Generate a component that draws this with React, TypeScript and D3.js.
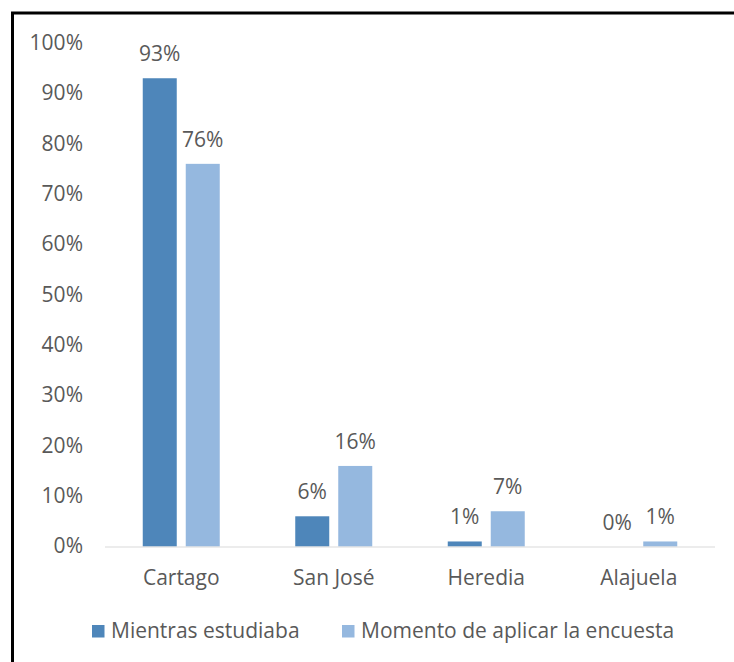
import React from "react";
import * as d3 from "d3";

const categories = ["Cartago", "San José", "Heredia", "Alajuela"];
const seriesNames = ["Mientras estudiaba", "Momento de aplicar la encuesta"];
const mientras = [93, 6, 1, 0];
const momento = [76, 16, 7, 1];
const yTicks = [0, 10, 20, 30, 40, 50, 60, 70, 80, 90, 100];

const colors = ["#4E86BA", "#95B8DF"];
const font = "'Open Sans', 'Liberation Sans', sans-serif";
const textColor = "#595959";
const fs = 21;

export default function App() {
  const W = 734, H = 662;
  const left = 105, right = 715, top = 43, bottom = 546.5;
  const x = d3.scaleBand<string>().domain(categories).range([left, right]);
  const y = d3.scaleLinear().domain([0, 100]).range([bottom, top]);
  const barW = 34, gap = 9;
  const series = [mientras, momento];
  return (
    <svg width={W} height={H} style={{ position: "absolute", left: 0, top: 0, background: "#fff" }}>
      <rect x={12.5} y={13} width={W + 10} height={H + 10} fill="none" stroke="#000" strokeWidth={3} />
      {yTicks.map((t) => (
        <text key={t} x={83} y={y(t) + 6.8} textAnchor="end" fontFamily={font} fontSize={fs} fill={textColor}>
          {t}%
        </text>
      ))}
      {categories.map((c, i) => {
        const cx = (x(c) as number) + x.bandwidth() / 2;
        return (
          <g key={c}>
            {series.map((s, k) => {
              const bx = k === 0 ? cx - gap / 2 - barW : cx + gap / 2;
              const v = s[i];
              return (
                <g key={k}>
                  <rect x={bx} y={y(v)} width={barW} height={bottom - y(v)} fill={colors[k]} />
                  <text x={bx + barW / 2} y={y(v) - 17} textAnchor="middle" fontFamily={font} fontSize={fs} fill={textColor}>
                    {v}%
                  </text>
                </g>
              );
            })}
            <text x={cx} y={585} textAnchor="middle" fontFamily={font} fontSize={fs} fill={textColor}>
              {c}
            </text>
          </g>
        );
      })}
      <line x1={left} x2={right} y1={bottom + 0.5} y2={bottom + 0.5} stroke="#D9D9D9" strokeWidth={1} />
      <g>
        <rect x={92} y={625} width={12.5} height={12.5} fill={colors[0]} />
        <text x={111} y={637.5} fontFamily={font} fontSize={fs} fill={textColor}>{seriesNames[0]}</text>
        <rect x={342} y={625} width={12.5} height={12.5} fill={colors[1]} />
        <text x={361} y={637.5} fontFamily={font} fontSize={fs} fill={textColor}>{seriesNames[1]}</text>
      </g>
    </svg>
  );
}
